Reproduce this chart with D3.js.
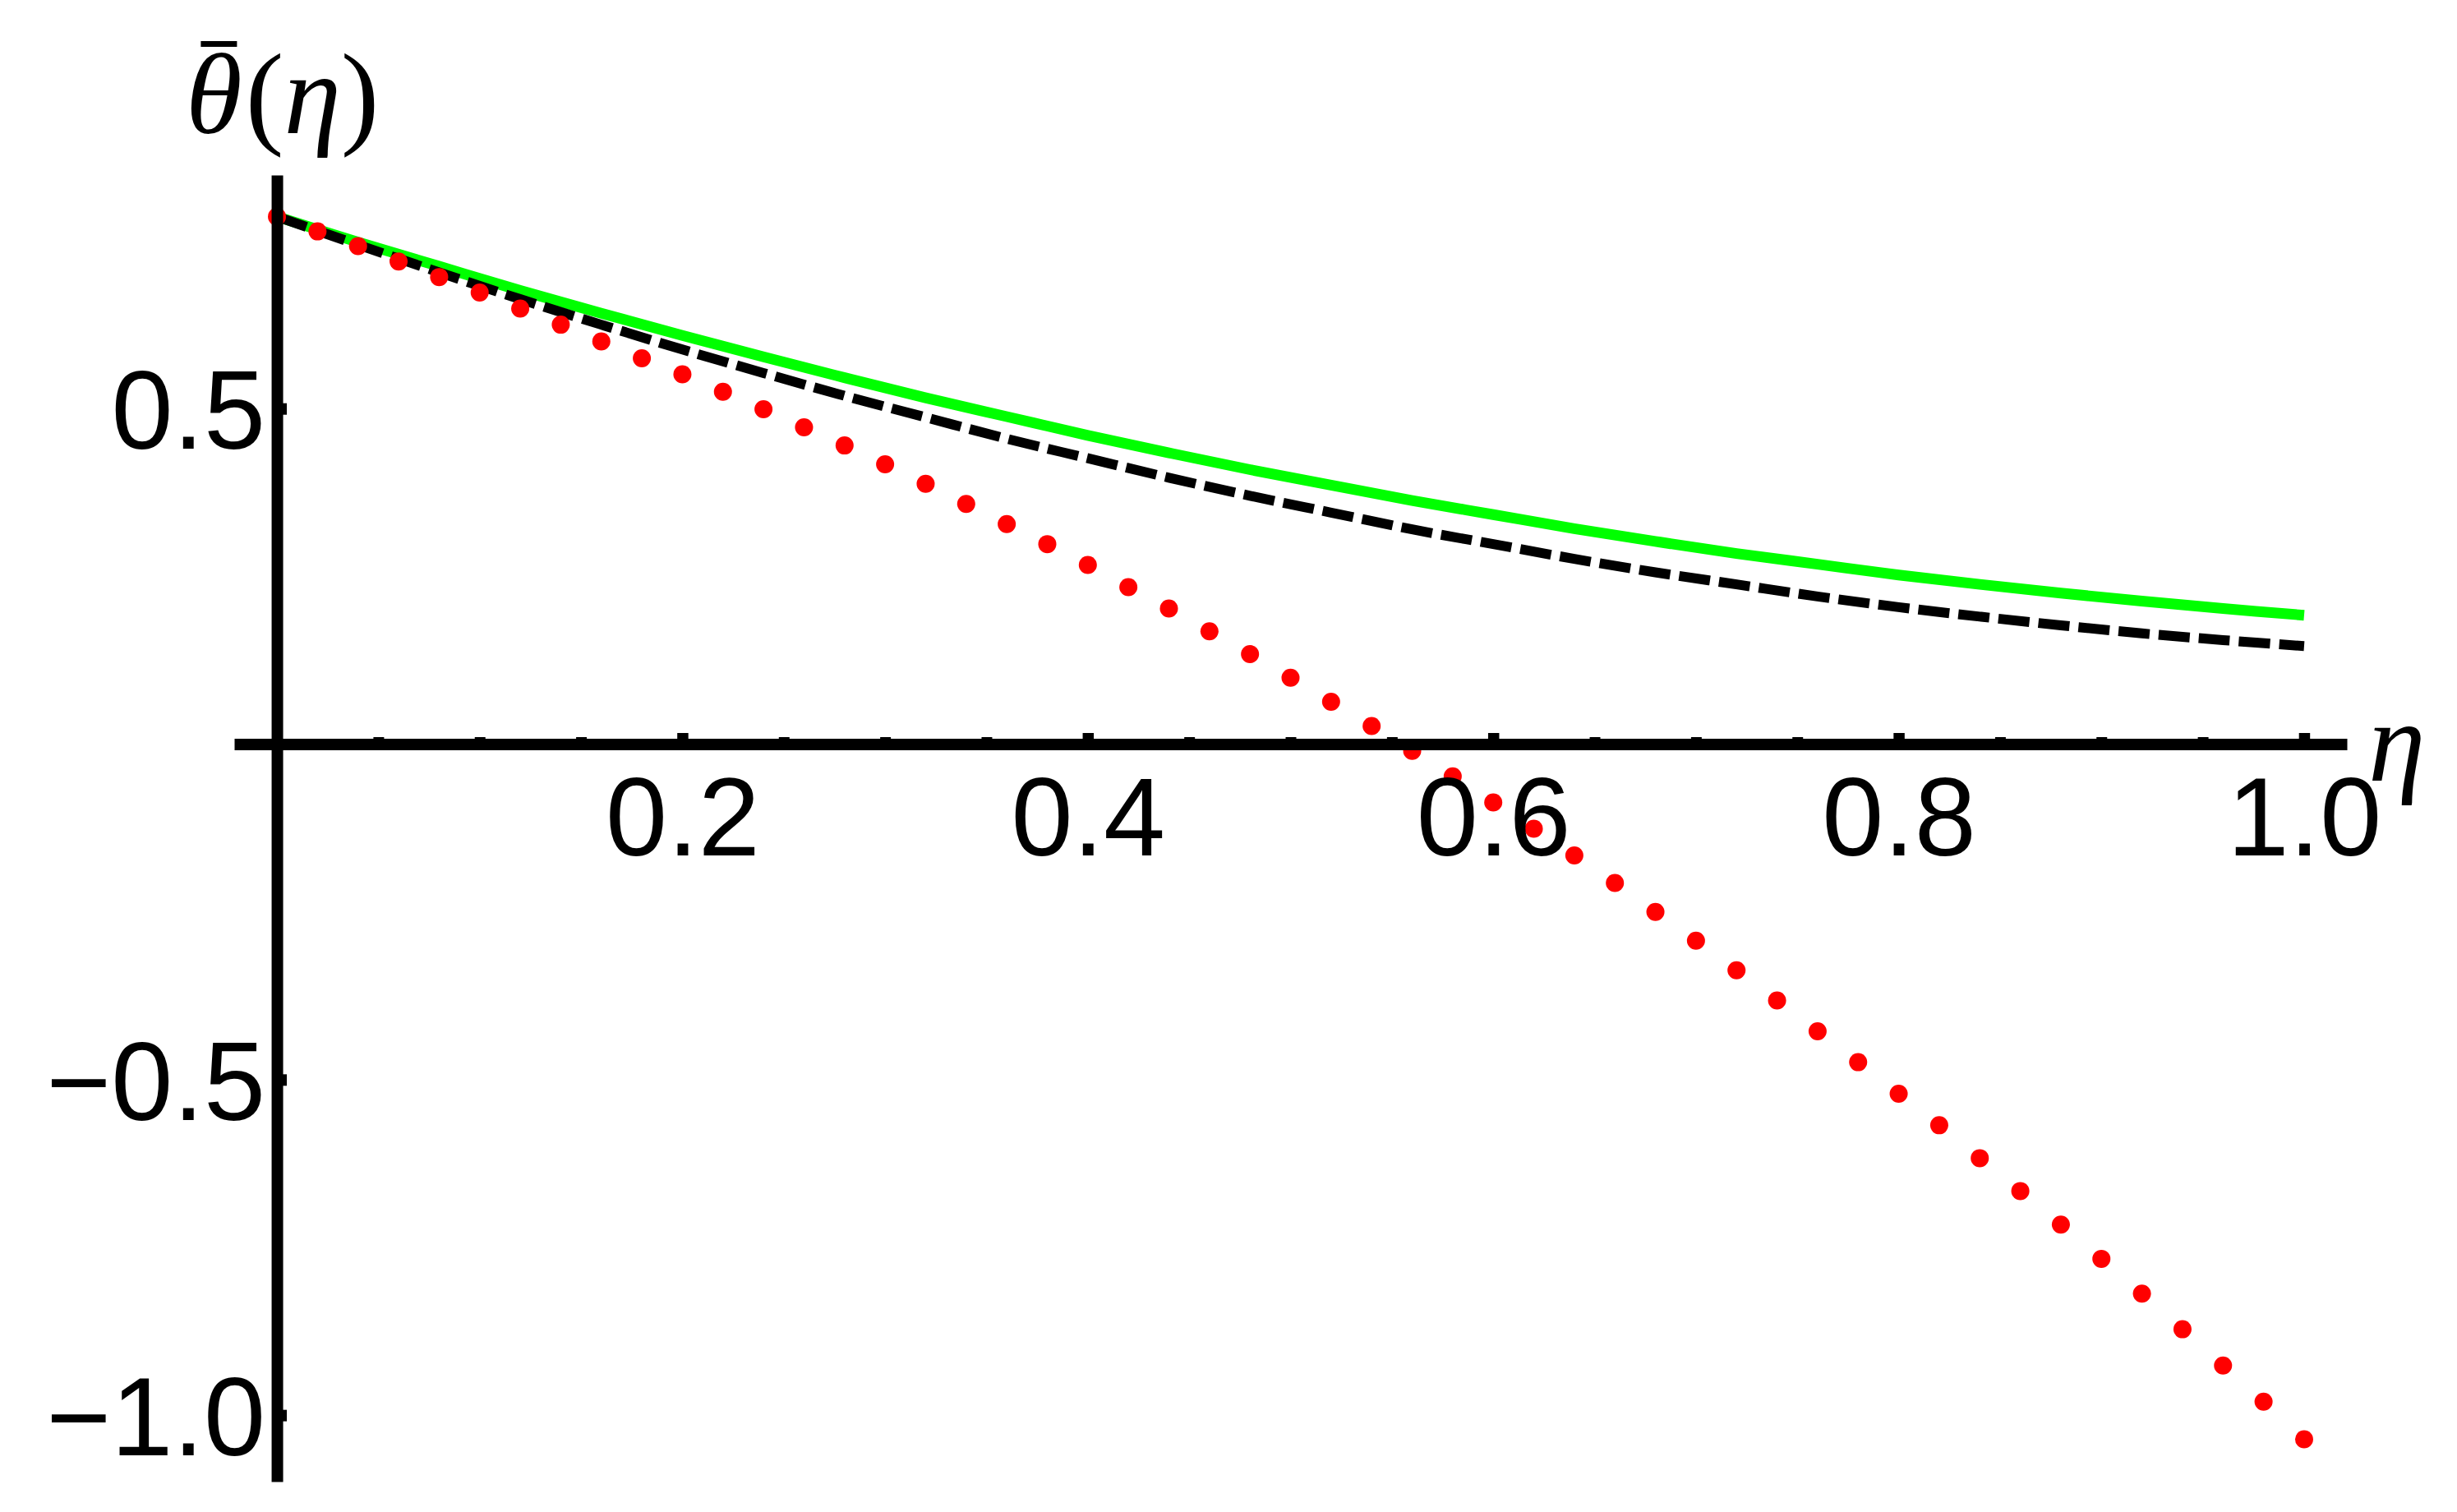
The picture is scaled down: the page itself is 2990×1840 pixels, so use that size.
<!DOCTYPE html>
<html>
<head>
<meta charset="utf-8">
<script src="https://cdn.jsdelivr.net/npm/d3@7"></script>
<style>
  html, body { margin: 0; padding: 0; background: #ffffff; }
  svg { display: block; }
</style>
</head>
<body>
<svg id="chart" width="2990" height="1840"></svg>
<script>
// ---- data ----
const etaDots = [0,0.02,0.04,0.06,0.08,0.1,0.12,0.14,0.16,0.18,0.2,0.22,0.24,0.26,0.28,0.3,0.32,0.34,0.36,0.38,0.4,0.42,0.44,0.46,0.48,0.5,0.52,0.54,0.56,0.58,0.6,0.62,0.64,0.66,0.68,0.7,0.72,0.74,0.76,0.78,0.8,0.82,0.84,0.86,0.88,0.9,0.92,0.94,0.96,0.98,1.0];
const redValues = [0.786,0.764,0.742,0.719,0.696,0.673,0.649,0.625,0.600,0.575,0.551,0.525,0.499,0.472,0.445,0.417,0.388,0.358,0.328,0.298,0.267,0.234,0.202,0.168,0.134,0.099,0.063,0.027,-0.010,-0.048,-0.087,-0.126,-0.166,-0.207,-0.250,-0.293,-0.337,-0.382,-0.428,-0.474,-0.521,-0.568,-0.617,-0.666,-0.716,-0.767,-0.819,-0.872,-0.926,-0.980,-1.036];

const etaCurve = [0,0.04,0.08,0.12,0.16,0.2,0.24,0.28,0.32,0.36,0.4,0.44,0.48,0.52,0.56,0.6,0.64,0.68,0.72,0.76,0.8,0.84,0.88,0.92,0.96,1.0];
const greenValues = [0.786,0.748,0.712,0.676,0.642,0.609,0.577,0.546,0.516,0.488,0.460,0.434,0.409,0.386,0.363,0.342,0.321,0.302,0.284,0.268,0.252,0.238,0.225,0.213,0.202,0.192];
const blackValues = [0.786,0.744,0.703,0.663,0.625,0.588,0.553,0.519,0.487,0.455,0.426,0.397,0.370,0.345,0.320,0.298,0.276,0.256,0.238,0.220,0.204,0.190,0.177,0.165,0.155,0.146];

const xMajorTicks = [0.2,0.4,0.6,0.8,1.0];
const xMinorTicks = [0.05,0.1,0.15,0.25,0.3,0.35,0.45,0.5,0.55,0.65,0.7,0.75,0.85,0.9,0.95];
const yMajorTicks = [0.5,-0.5,-1.0];

const xLabel = "η";
// y label pieces: θ (with a bar drawn over it), ( η )
const yLabelParts = ["θ", "(", "η", ")"];

// ---- drawing ----
const svg = d3.select("#chart");
const x = d3.scaleLinear().domain([-0.0211, 1.0211]).range([285, 2856]);
const y = d3.scaleLinear().domain([0.848, -1.099]).range([213, 1803]);
const x0 = x(0), y0 = y(0);

const greenData = etaCurve.map((e, i) => [e, greenValues[i]]);
const blackData = etaCurve.map((e, i) => [e, blackValues[i]]);
const redData = etaDots.map((e, i) => [e, redValues[i]]);

const line = d3.line().x(d => x(d[0])).y(d => y(d[1])).curve(d3.curveCatmullRom.alpha(0.5));

svg.append("path").datum(greenData)
  .attr("d", line).attr("fill", "none")
  .attr("stroke", "#00ff00").attr("stroke-width", 13);

svg.append("path").datum(blackData)
  .attr("d", line).attr("fill", "none")
  .attr("stroke", "#000000").attr("stroke-width", 12)
  .attr("stroke-dasharray", "38,11");

svg.append("g").selectAll("circle").data(redData).join("circle")
  .attr("cx", d => x(d[0])).attr("cy", d => y(d[1]))
  .attr("r", 11).attr("fill", "#ff0000");

const fontSans = "'Liberation Sans', Arial, sans-serif";
const fontSerif = "'Liberation Serif', 'Times New Roman', serif";
const fmt = d3.format(".1f");

// x axis (minor ticks)
const gxMinor = svg.append("g").attr("transform", `translate(0,${y0})`)
  .call(d3.axisBottom(x).tickValues(xMinorTicks).tickSize(-8.5).tickSizeOuter(0).tickFormat(""));
gxMinor.select(".domain").remove();
gxMinor.selectAll(".tick line").attr("stroke", "#000").attr("stroke-width", 13);

// x axis (major)
const gx = svg.append("g").attr("transform", `translate(0,${y0})`)
  .call(d3.axisBottom(x).tickValues(xMajorTicks).tickSize(-13.5).tickSizeOuter(0).tickFormat(fmt));
gx.select(".domain").attr("stroke", "#000").attr("stroke-width", 14);
gx.selectAll(".tick line").attr("stroke", "#000").attr("stroke-width", 13.5);
gx.selectAll(".tick text")
  .attr("y", 135).attr("dy", null)
  .attr("font-family", fontSans).attr("font-size", 135).attr("fill", "#000");

// y axis
const gy = svg.append("g").attr("transform", `translate(${x0},0)`)
  .call(d3.axisLeft(y).tickValues(yMajorTicks).tickSize(-12).tickSizeOuter(0).tickPadding(14).tickFormat(fmt));
gy.select(".domain").attr("stroke", "#000").attr("stroke-width", 14);
gy.selectAll(".tick line").attr("stroke", "#000").attr("stroke-width", 14);
gy.selectAll(".tick text")
  .attr("dy", "0.36em")
  .attr("font-family", fontSans).attr("font-size", 135).attr("fill", "#000");

// axis labels
svg.append("text").text(xLabel)
  .attr("x", 2882).attr("y", 950)
  .attr("font-family", fontSerif)
  .attr("font-style", "italic").attr("font-size", 140).attr("fill", "#000");

const yl = svg.append("text")
  .attr("x", 226).attr("y", 162)
  .attr("font-family", fontSerif)
  .attr("font-size", 140).attr("fill", "#000");
yl.append("tspan").text(yLabelParts[0]).attr("font-style", "italic");
yl.append("tspan").text(yLabelParts[1]).attr("dx", 4);
yl.append("tspan").text(yLabelParts[2]).attr("font-style", "italic");
yl.append("tspan").text(yLabelParts[3]).attr("dx", 0);

// bar over theta (part of the y label)
const thetaBox = yl.node().getExtentOfChar(0);
const barW = 44;
const barCx = thetaBox.x + thetaBox.width / 2 + 6;
svg.append("line")
  .attr("x1", barCx - barW / 2).attr("x2", barCx + barW / 2)
  .attr("y1", 53.5).attr("y2", 53.5)
  .attr("stroke", "#000").attr("stroke-width", 7);
</script>
</body>
</html>
